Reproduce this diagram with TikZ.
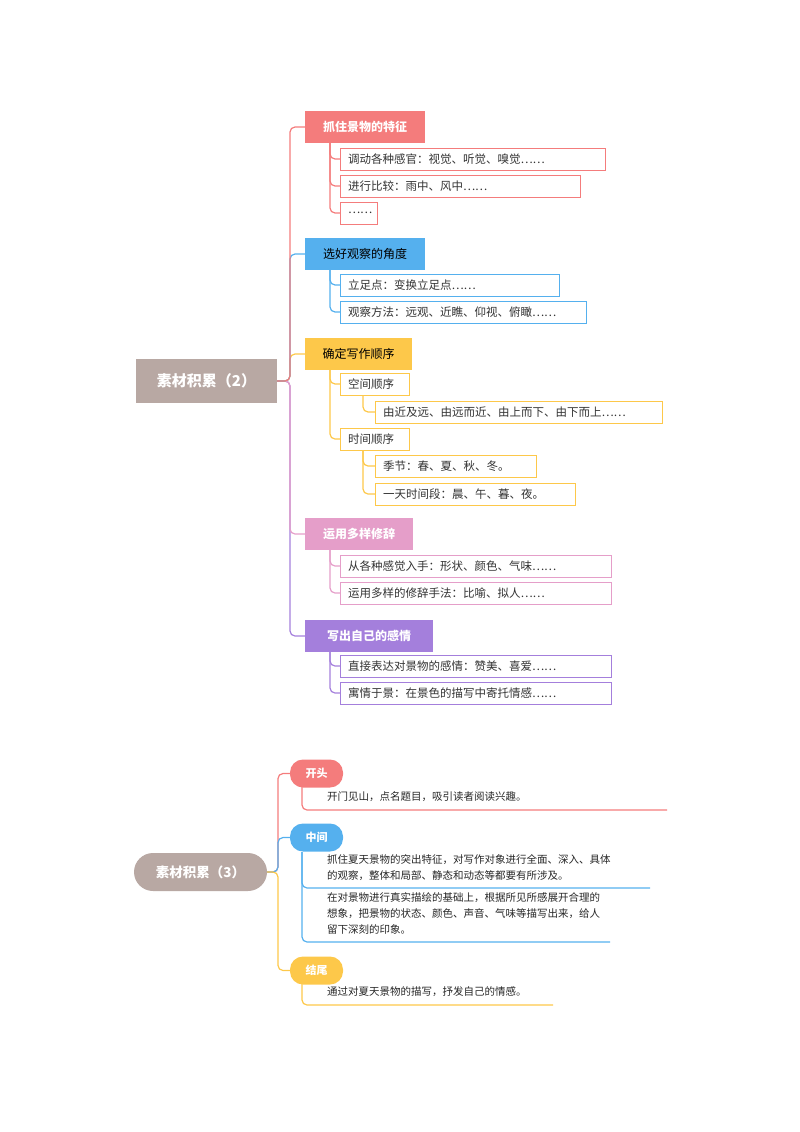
\documentclass[tikz,border=0pt]{standalone}
\usepackage{fontspec}
\setmainfont{Noto Sans CJK SC}
\begin{document}
\begin{tikzpicture}[x=1pt,y=-1pt,
  every node/.style={inner sep=0pt,outer sep=0pt},
  lk/.style={line width=1.2pt,rounded corners=5pt},
  br/.style={fill=#1,minimum height=32pt,text=black,font=\fontsize{12}{14}\selectfont,anchor=west,inner xsep=14pt},
  ch/.style={draw=#1,line width=1pt,fill=white,minimum height=22pt,font=\fontsize{11.5}{13}\selectfont,anchor=west,inner xsep=8pt,text=black!80,align=left},
  pill/.style={fill=#1,rounded corners=13pt,minimum width=53pt,minimum height=28pt,text=white,font=\bfseries\fontsize{11}{12}\selectfont},
  ul/.style={font=\fontsize{10.5}{16}\selectfont,anchor=north west,align=left,text=black!85}]
\useasboundingbox (0,0) rectangle (800,1132);
\definecolor{cr}{HTML}{F47C7C}\definecolor{cb}{HTML}{55B0EE}\definecolor{cy}{HTML}{FDC84A}
\definecolor{cp}{HTML}{E59EC9}\definecolor{cv}{HTML}{A47FDC}\definecolor{cg}{HTML}{B8A8A3}
% top map
\node[fill=cg,minimum width=141pt,minimum height=44pt,text=white,font=\bfseries\fontsize{15}{17}\selectfont] (r2) at (206.5,381) {素材积累（2）};
\node[br=cr,text=white,minimum width=120pt] (b1) at (305,127) {\bfseries 抓住景物的特征};
\node[br=cb,minimum width=120pt] (b2) at (305,254) {选好观察的角度};
\node[br=cy,minimum width=107pt] (b3) at (305,354) {确定写作顺序};
\node[br=cp,text=white,minimum width=108pt] (b4) at (305,534) {\bfseries 运用多样修辞};
\node[br=cv,text=white,minimum width=128pt] (b5) at (305,636) {\bfseries 写出自己的感情};
\foreach \b/\c in {b5/cv,b4/cp,b3/cy,b2/cb,b1/cr}
  \draw[lk,\c] (r2.east) -- (290,381) |- (\b.west);
\node[ch=cr,text width=249pt] (c11) at (340,159) {调动各种感官：视觉、听觉、嗅觉……};
\node[ch=cr,text width=224pt] (c12) at (340,186) {进行比较：雨中、风中……};
\node[ch=cr,text width=21pt] (c13) at (340,213) {……};
\foreach \n in {c11,c12,c13} \draw[lk,cr] (330,143) |- (\n.west);
\node[ch=cb,text width=203pt] (c21) at (340,285) {立足点：变换立足点……};
\node[ch=cb,text width=230pt] (c22) at (340,312) {观察方法：远观、近瞧、仰视、俯瞰……};
\foreach \n in {c21,c22} \draw[lk,cb] (330,270) |- (\n.west);
\node[ch=cy,text width=53pt] (c31) at (340,384) {空间顺序};
\node[ch=cy,text width=271pt] (c311) at (375,412) {由近及远、由远而近、由上而下、由下而上……};
\node[ch=cy,text width=53pt] (c32) at (340,439) {时间顺序};
\node[ch=cy,text width=145pt] (c321) at (375,466) {季节：春、夏、秋、冬。};
\node[ch=cy,text width=184pt] (c322) at (375,494) {一天时间段：晨、午、暮、夜。};
\foreach \n in {c31,c32} \draw[lk,cy] (330,370) |- (\n.west);
\draw[lk,cy] (363,395) |- (c311.west);
\foreach \n in {c321,c322} \draw[lk,cy] (363,450) |- (\n.west);
\node[ch=cp,text width=255pt] (c41) at (340,566) {从各种感觉入手：形状、颜色、气味……};
\node[ch=cp,text width=255pt] (c42) at (340,593) {运用多样的修辞手法：比喻、拟人……};
\foreach \n in {c41,c42} \draw[lk,cp] (330,550) |- (\n.west);
\node[ch=cv,text width=255pt] (c51) at (340,666) {直接表达对景物的感情：赞美、喜爱……};
\node[ch=cv,text width=255pt] (c52) at (340,693) {寓情于景：在景色的描写中寄托情感……};
\foreach \n in {c51,c52} \draw[lk,cv] (330,652) |- (\n.west);
% bottom map
\node[fill=cg,rounded corners=19pt,minimum width=133pt,minimum height=38pt,text=white,font=\bfseries\fontsize{13.5}{15}\selectfont] (r3) at (200.5,872) {素材积累（3）};
\node[pill=cr] (p1) at (316.5,773.5) {开头};
\node[pill=cb] (p2) at (316.5,837.5) {中间};
\node[pill=cy] (p3) at (316.5,970.5) {结尾};
\foreach \p/\c in {p1/cr,p2/cb,p3/cy} \draw[lk,\c] (r3.east) -- (278,872) |- (\p.west);
\node[ul] (t1) at (327,792) {开门见山，点名题目，吸引读者阅读兴趣。};
\coordinate (e1) at (667,810);
\draw[lk,cr] (302,787) |- (e1);
\node[ul] (t2) at (327,855) {抓住夏天景物的突出特征，对写作对象进行全面、深入、具体\\的观察，整体和局部、静态和动态等都要有所涉及。};
\coordinate (e2) at (650,888);
\node[ul] (t3) at (327,893) {在对景物进行真实描绘的基础上，根据所见所感展开合理的\\想象，把景物的状态、颜色、声音、气味等描写出来，给人\\留下深刻的印象。};
\coordinate (e3) at (610,942);
\draw[lk,cb] (302,852) |- (e2);
\draw[lk,cb] (302,852) |- (e3);
\node[ul] (t4) at (327,987) {通过对夏天景物的描写，抒发自己的情感。};
\coordinate (e4) at (553,1005);
\draw[lk,cy] (302,984) |- (e4);
\end{tikzpicture}
\end{document}
